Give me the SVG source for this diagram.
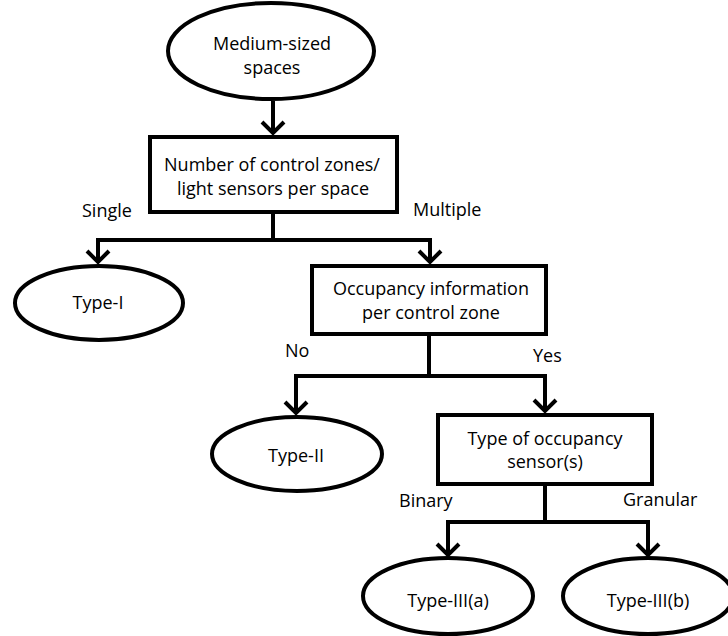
<svg xmlns="http://www.w3.org/2000/svg" width="728" height="636" viewBox="0 0 728 636">
<style>
.shape{fill:#fff;stroke:#000;stroke-width:4}
.t{font-family:"Open Sans","Liberation Sans",sans-serif;font-size:18px;fill:#000;text-anchor:middle}
.lbl{font-family:"Open Sans","Liberation Sans",sans-serif;font-size:18px;fill:#000}
.edge{fill:none;stroke:#000;stroke-width:4;marker-end:url(#arr)}
</style>
<defs>
<marker id="arr" markerUnits="userSpaceOnUse" viewBox="-16 -14 20 28" refX="0" refY="0" markerWidth="20" markerHeight="28" orient="auto">
<path d="M-11,-11 L0,0 L-11,11" fill="none" stroke="#000" stroke-width="4"/>
</marker>
</defs>
<rect width="728" height="636" fill="#fff"/>
<g id="connectors">
<path class="edge" d="M273 101 V133"/>
<path class="edge" d="M273 212 V240 H98 V262"/>
<path class="edge" d="M273 240 H430 V262"/>
<path class="edge" d="M429 334 V376 H296 V413"/>
<path class="edge" d="M429 376 H545 V411"/>
<path class="edge" d="M545 484 V522 H448 V555"/>
<path class="edge" d="M545 522 H648 V555"/>
</g>
<g id="n_medium">
<ellipse class="shape" cx="271" cy="51" rx="103" ry="48"/>
<text class="t" x="272" y="50">Medium-sized</text>
<text class="t" x="272" y="74">spaces</text>
</g>
<g id="n_zones">
<rect class="shape" x="150" y="137" width="247" height="75"/>
<text class="t" x="272" y="171">Number of control zones/</text>
<text class="t" x="273" y="195">light sensors per space</text>
</g>
<g id="n_type1">
<ellipse class="shape" cx="99" cy="303" rx="84" ry="37"/>
<text class="t" x="98" y="309">Type-I</text>
</g>
<g id="n_occ">
<rect class="shape" x="312" y="266" width="234" height="68"/>
<text class="t" x="431" y="295">Occupancy information</text>
<text class="t" x="431" y="319">per control zone</text>
</g>
<g id="n_type2">
<ellipse class="shape" cx="297" cy="454" rx="85" ry="37"/>
<text class="t" x="296" y="462">Type-II</text>
</g>
<g id="n_sensor">
<rect class="shape" x="438" y="415" width="214" height="69"/>
<text class="t" x="545" y="445">Type of occupancy</text>
<text class="t" x="545" y="468">sensor(s)</text>
</g>
<g id="n_type3a">
<ellipse class="shape" cx="448" cy="596" rx="85" ry="38"/>
<text class="t" x="448" y="607">Type-III(a)</text>
</g>
<g id="n_type3b">
<ellipse class="shape" cx="648" cy="596" rx="85" ry="38"/>
<text class="t" x="648" y="607">Type-III(b)</text>
</g>
<g id="labels">
<text class="lbl" x="82" y="217">Single</text>
<text class="lbl" x="413" y="216">Multiple</text>
<text class="lbl" x="285" y="357">No</text>
<text class="lbl" x="533" y="362">Yes</text>
<text class="lbl" x="399" y="507">Binary</text>
<text class="lbl" x="623" y="506">Granular</text>
</g>
</svg>
